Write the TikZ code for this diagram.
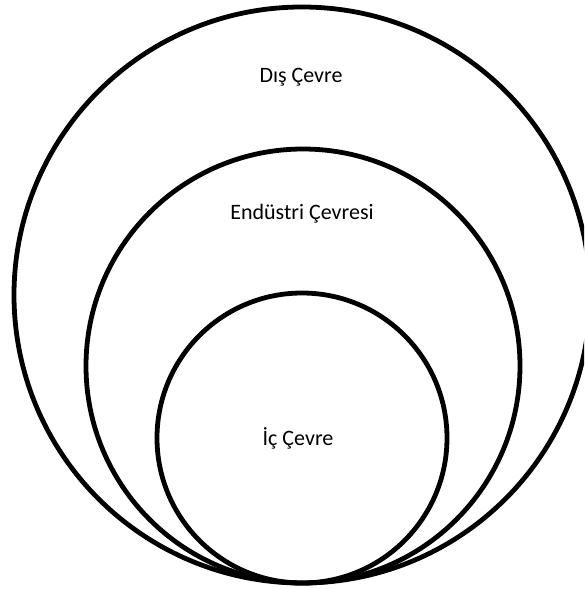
\documentclass[tikz,border=0pt]{standalone}
\usepackage{fontspec}
\setmainfont{Carlito}
\begin{document}
\begin{tikzpicture}[x=1pt,y=-1pt,
  ring/.style={draw=black,line width=4.8pt},
  label/.style={font=\fontsize{22}{26}\selectfont,text=black,inner sep=0pt}]
  \useasboundingbox (0,0) rectangle (584,589);
  \clip (0,0) rectangle (584,589);
  % three nested circles, all touching at the bottom
  \node[ring,circle,minimum size=576pt,inner sep=0pt] (outer) at (302,295) {};
  \node[ring,circle,minimum size=434pt,inner sep=0pt] (middle) at (303,366) {};
  \node[ring,circle,minimum size=290pt,inner sep=0pt] (inner) at (302,438) {};
  % labels
  \node[label] (dis) at (301,77) {Dış Çevre};
  \node[label] (end) at (302,214) {Endüstri Çevresi};
  \node[label] (ic) at (298,438) {İç Çevre};
\end{tikzpicture}
\end{document}
